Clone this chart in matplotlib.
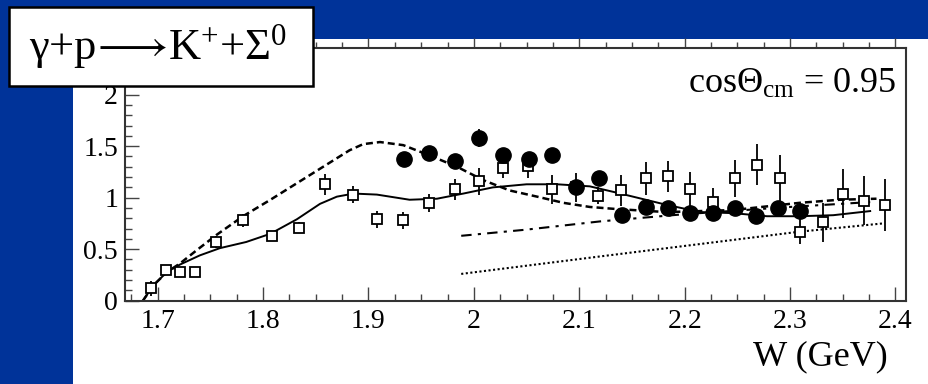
import matplotlib
matplotlib.use('Agg')
import matplotlib.pyplot as plt
from matplotlib.patches import Rectangle
from matplotlib.ticker import MultipleLocator

plt.rcParams['font.family'] = ['Liberation Serif', 'DejaVu Sans']
plt.rcParams['mathtext.fontset'] = 'custom'
plt.rcParams['mathtext.rm'] = 'Liberation Serif'
plt.rcParams['mathtext.it'] = 'Liberation Serif:italic'
plt.rcParams['mathtext.fallback'] = 'stix'

# open squares
w_sq = [1.694, 1.708, 1.721, 1.735, 1.755, 1.781, 1.808, 1.834, 1.859, 1.885,
        1.908, 1.933, 1.957, 1.982, 2.005, 2.028, 2.051, 2.074, 2.097, 2.118,
        2.140, 2.163, 2.184, 2.205, 2.227, 2.248, 2.269, 2.290, 2.309, 2.331,
        2.350, 2.370, 2.390]
y_sq = [0.12, 0.30, 0.28, 0.28, 0.57, 0.78, 0.63, 0.71, 1.13, 1.03,
        0.79, 0.78, 0.95, 1.08, 1.16, 1.29, 1.31, 1.08, 1.10, 1.02,
        1.07, 1.19, 1.21, 1.08, 0.96, 1.19, 1.32, 1.19, 0.67, 0.76,
        1.04, 0.97, 0.93]
e_sq = [0.07, 0.05, 0.05, 0.05, 0.06, 0.06, 0.05, 0.05, 0.10, 0.08,
        0.08, 0.08, 0.09, 0.10, 0.13, 0.10, 0.12, 0.14, 0.14, 0.08,
        0.15, 0.16, 0.15, 0.17, 0.13, 0.18, 0.20, 0.22, 0.12, 0.19,
        0.24, 0.24, 0.25]

# filled circles
w_ci = [1.934, 1.957, 1.982, 2.005, 2.028, 2.052, 2.074, 2.097, 2.119, 2.141,
        2.163, 2.184, 2.205, 2.227, 2.248, 2.268, 2.289, 2.309]
y_ci = [1.38, 1.43, 1.36, 1.58, 1.41, 1.38, 1.41, 1.10, 1.19, 0.83,
        0.91, 0.90, 0.85, 0.85, 0.90, 0.82, 0.90, 0.87]
e_ci = [0.06, 0.05, 0.05, 0.09, 0.05, 0.05, 0.04, 0.05, 0.05, 0.04,
        0.04, 0.04, 0.04, 0.04, 0.04, 0.04, 0.04, 0.04]

# model curves
w_solid = [1.686, 1.696, 1.709, 1.721, 1.740, 1.759, 1.784, 1.807, 1.832, 1.854,
           1.870, 1.886, 1.908, 1.939, 1.965, 1.990, 2.018, 2.050, 2.079, 2.110,
           2.135, 2.151, 2.183, 2.215, 2.246, 2.278, 2.309, 2.341, 2.376]
y_solid = [0.0, 0.15, 0.28, 0.35, 0.44, 0.51, 0.57, 0.65, 0.79, 0.94,
           1.01, 1.04, 1.03, 0.98, 0.99, 1.04, 1.10, 1.13, 1.13, 1.11,
           1.05, 1.01, 0.93, 0.86, 0.85, 0.82, 0.82, 0.83, 0.87]

w_dash = [1.686, 1.696, 1.709, 1.721, 1.737, 1.756, 1.781, 1.807, 1.832, 1.857,
          1.882, 1.895, 1.911, 1.933, 1.958, 1.984, 2.009, 2.034, 2.060, 2.085,
          2.110, 2.135, 2.183, 2.246, 2.309, 2.347, 2.382]
y_dash = [0.0, 0.15, 0.28, 0.36, 0.49, 0.64, 0.82, 0.98, 1.14, 1.30,
          1.46, 1.52, 1.54, 1.51, 1.41, 1.30, 1.17, 1.07, 1.01, 0.95,
          0.91, 0.89, 0.86, 0.88, 0.95, 0.98, 0.99]

w_dd = [1.988, 2.05, 2.12, 2.20, 2.30, 2.38]
y_dd = [0.63, 0.69, 0.77, 0.84, 0.91, 0.96]

w_dot = [1.988, 2.12, 2.309, 2.388]
y_dot = [0.26, 0.43, 0.67, 0.75]

fig = plt.figure(figsize=(9.29, 3.84), dpi=100)
fig.patch.set_facecolor('#003399')
# white slide panel
fig.patches.append(Rectangle((73 / 929, 0), 1 - 73 / 929, 1 - 39 / 384,
                             transform=fig.transFigure, facecolor='white',
                             edgecolor='none', zorder=-5))

ax = fig.add_axes([125 / 929, 1 - 300.7 / 384, (906 - 125) / 929, (300.7 - 48) / 384])
ax.set_zorder(1)
ax.patch.set_alpha(0)
ax.set_xlim(1.669, 2.410)
ax.set_ylim(0, 2.453)

ax.plot(w_dot, y_dot, color='black', lw=1.5, ls=(0, (1, 1.2)))
ax.plot(w_dd, y_dd, color='black', lw=1.5, ls=(0, (5, 3, 1.5, 3)))
ax.plot(w_dash, y_dash, color='black', lw=1.8, ls=(0, (2.8, 1.6)))
ax.plot(w_solid, y_solid, color='black', lw=1.4)

ax.errorbar(w_sq, y_sq, yerr=e_sq, fmt='s', ms=7, mfc='white', mec='black',
            mew=1.3, ecolor='black', elinewidth=1.3, capsize=0, zorder=3)
ax.errorbar(w_ci, y_ci, yerr=e_ci, fmt='o', ms=11, mfc='black', mec='black',
            ecolor='black', elinewidth=1.3, capsize=0, zorder=4)

ax.xaxis.set_minor_locator(MultipleLocator(0.025))
ax.yaxis.set_minor_locator(MultipleLocator(0.1))
ax.set_xticks([1.7, 1.8, 1.9, 2.0, 2.1, 2.2, 2.3, 2.4])
ax.set_xticklabels(['1.7', '1.8', '1.9', '2', '2.1', '2.2', '2.3', '2.4'])
ax.set_yticks([0, 0.5, 1, 1.5, 2])
ax.set_yticklabels(['0', '0.5', '1', '1.5', '2'])
ax.tick_params(which='both', direction='in', top=False, right=False,
               color='#444444', width=1, labelsize=20)
ax.tick_params(which='major', length=10)
ax.tick_params(which='minor', length=5)
ax.tick_params(axis='x', pad=6)
ax.tick_params(axis='y', pad=5)

top = ax.secondary_xaxis('top')
top.set_xticks([1.7, 1.8, 1.9, 2.0, 2.1, 2.2, 2.3, 2.4])
top.xaxis.set_minor_locator(MultipleLocator(0.025))
top.tick_params(which='both', direction='out', labeltop=False, color='#444444', width=1)
top.tick_params(which='major', length=7)
top.tick_params(which='minor', length=4)
top.spines['top'].set_visible(False)

for s in ax.spines.values():
    s.set_color('#333333')
    s.set_linewidth(1.5)

fig.text(897 / 929, 1 - 93 / 384, r'cos$\Theta_{\rm cm}$ = 0.95',
         ha='right', va='baseline', fontsize=26, zorder=3)
fig.text(888 / 929, 1 - 357 / 384, 'W (GeV)', ha='right', va='center', fontsize=26)

# reaction label box
fig.patches.append(Rectangle((9 / 929, 1 - 86 / 384), 304 / 929, 79 / 384,
                             transform=fig.transFigure, facecolor='white',
                             edgecolor='black', lw=1.8, zorder=5))
fig.text(158 / 929, 1 - 47 / 384, r'γ+p$\!\longrightarrow\!$K$^{+}$+Σ$^{0}$',
         ha='center', va='center', fontsize=32, zorder=6)

fig.savefig('out.png', dpi=100, facecolor=fig.get_facecolor())
